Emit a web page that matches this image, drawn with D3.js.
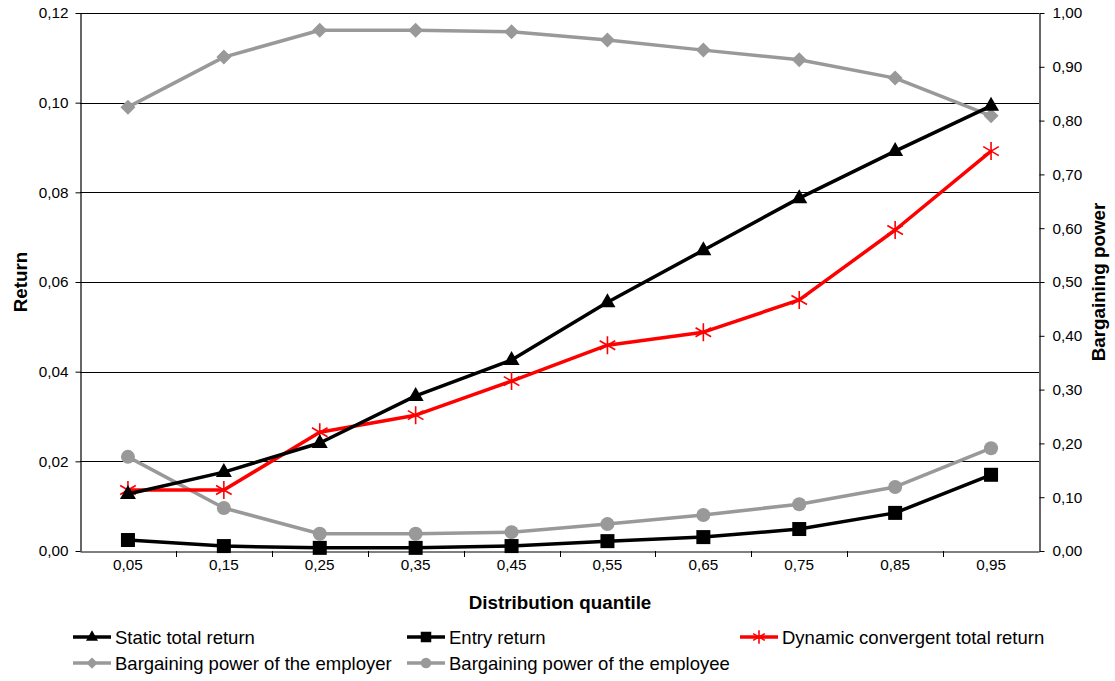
<!DOCTYPE html>
<html><head><meta charset="utf-8">
<script src="https://cdn.jsdelivr.net/npm/d3@7"></script>
<style>body{margin:0;background:#fff;}svg{font-family:"Liberation Sans",Arial,sans-serif;}</style>
</head><body><svg id="c" width="1115" height="681"></svg>
<script>
const categories = ["0,05","0,15","0,25","0,35","0,45","0,55","0,65","0,75","0,85","0,95"];
const staticTotal = [0.0127,0.0176,0.0241,0.0346,0.0426,0.0555,0.0671,0.0787,0.0892,0.0993];
const entryReturn = [0.00245,0.0011,0.0007,0.0007,0.0011,0.0022,0.0031,0.0049,0.0085,0.0170];
const dynamicTotal = [0.0136,0.0136,0.0265,0.0303,0.0379,0.0459,0.0488,0.0560,0.0716,0.0892];
const employerPower = [0.825,0.918,0.968,0.968,0.965,0.950,0.931,0.913,0.879,0.809];
const employeePower = [0.175,0.080,0.032,0.032,0.035,0.050,0.067,0.087,0.119,0.191];
const leftTicks = [0,0.02,0.04,0.06,0.08,0.10,0.12];
const rightTicks = [0,0.1,0.2,0.3,0.4,0.5,0.6,0.7,0.8,0.9,1.0];

const svg = d3.select("#c");
const L=80,R=1039,T=13,B=551;
const x = d3.scaleBand().domain(categories).range([L,R]);
const yL = d3.scaleLinear().domain([0,0.12]).range([B,T]);
const yR = d3.scaleLinear().domain([0,1]).range([B,T]);
const fmt2 = v => d3.format(".2f")(v).replace(".",",");

// gridlines
svg.append("g").selectAll("line").data(leftTicks.filter(d=>d>0)).join("line")
  .attr("x1",L).attr("x2",R).attr("y1",d=>Math.round(yL(d))+0.5).attr("y2",d=>Math.round(yL(d))+0.5)
  .attr("stroke","#000").attr("stroke-width",1);

// axes
const gl = svg.append("g").attr("transform",`translate(${L+0.5},0)`)
  .call(d3.axisLeft(yL).tickValues(leftTicks).tickFormat(fmt2).tickSize(5).tickSizeOuter(0));
const gr = svg.append("g").attr("transform",`translate(${R+0.5},0)`)
  .call(d3.axisRight(yR).tickValues(rightTicks).tickFormat(fmt2).tickSize(5).tickSizeOuter(0));
const gx = svg.append("g").attr("transform",`translate(0,${B+0.5})`)
  .call(d3.axisBottom(x).tickSize(0).tickSizeOuter(0));
// boundary ticks for x
svg.append("g").selectAll("line").data(categories.slice(1)).join("line")
  .attr("x1",d=>Math.round(x(d))+0.5).attr("x2",d=>Math.round(x(d))+0.5)
  .attr("y1",B).attr("y2",B+6).attr("stroke","#000");
[gl,gr,gx].forEach(g=>{
  g.attr("font-size",15.3).attr("font-family","Liberation Sans, Arial, sans-serif");
  g.selectAll("path.domain").attr("stroke","#000").attr("stroke-width",1.2);
  g.selectAll(".tick line").attr("stroke","#000");
  g.selectAll("text").attr("fill","#000");
});
gl.selectAll("text").attr("x",-12);
gr.selectAll("text").attr("x",13);
gx.selectAll("text").attr("y",18).attr("dy","0");

// axis titles
svg.append("text").attr("transform",`translate(27,282) rotate(-90)`).attr("text-anchor","middle")
  .attr("font-size",18.8).attr("font-weight","bold").text("Return");
svg.append("text").attr("transform",`translate(1105,282) rotate(-90)`).attr("text-anchor","middle")
  .attr("font-size",18.8).attr("font-weight","bold").text("Bargaining power");
svg.append("text").attr("x",560).attr("y",609).attr("text-anchor","middle")
  .attr("font-size",18.8).attr("font-weight","bold").text("Distribution quantile");

const cx = c => x(c)+x.bandwidth()/2;
const gray="#999999";
const series = [
  {name:"Bargaining power of the employer", data:employerPower, y:yR, color:gray, marker:"diamond"},
  {name:"Bargaining power of the employee", data:employeePower, y:yR, color:gray, marker:"circle"},
  {name:"Entry return", data:entryReturn, y:yL, color:"#000", marker:"square"},
  {name:"Dynamic convergent total return", data:dynamicTotal, y:yL, color:"#ff0000", marker:"star"},
  {name:"Static total return", data:staticTotal, y:yL, color:"#000", marker:"triangle"}
];

function drawMarker(g, type, color, scale){
  const s = scale||1;
  if(type==="diamond") g.append("path").attr("d",`M0,${-7.5*s}L${7.5*s},0L0,${7.5*s}L${-7.5*s},0Z`).attr("fill",color);
  else if(type==="circle") g.append("circle").attr("r",7*s).attr("fill",color);
  else if(type==="square") g.append("rect").attr("x",-7*s).attr("y",-7*s).attr("width",14*s).attr("height",14*s).attr("fill",color);
  else if(type==="triangle") g.append("path").attr("d",`M0,${-9*s}L${8*s},${5*s}L${-8*s},${5*s}Z`).attr("fill",color);
  else if(type==="star"){
    const r=9*s;
    const p=[];
    [0,60,120].forEach(a=>{const t=a*Math.PI/180;p.push(`M${-r*Math.sin(t)},${-r*Math.cos(t)}L${r*Math.sin(t)},${r*Math.cos(t)}`);});
    g.append("path").attr("d",p.join("")).attr("stroke",color).attr("stroke-width",1.6).attr("fill","none");
  }
}

const line = d3.line();
series.forEach(s=>{
  const pts = categories.map((c,i)=>[cx(c), s.y(s.data[i])]);
  svg.append("path").attr("d",line(pts)).attr("fill","none").attr("stroke",s.color).attr("stroke-width",3.5).attr("stroke-linejoin","round");
  pts.forEach(p=>{
    const g=svg.append("g").attr("transform",`translate(${p[0]},${p[1]})`);
    drawMarker(g,s.marker,s.color);
  });
});

// legend
const legend = [
  {name:"Static total return", color:"#000", marker:"triangle", x:73, y:637},
  {name:"Entry return", color:"#000", marker:"square", x:407, y:637},
  {name:"Dynamic convergent total return", color:"#ff0000", marker:"star", x:740, y:637},
  {name:"Bargaining power of the employer", color:gray, marker:"diamond", x:73, y:663},
  {name:"Bargaining power of the employee", color:gray, marker:"circle", x:407, y:663}
];
legend.forEach(l=>{
  svg.append("line").attr("x1",l.x).attr("x2",l.x+38).attr("y1",l.y).attr("y2",l.y).attr("stroke",l.color).attr("stroke-width",3.5);
  const g=svg.append("g").attr("transform",`translate(${l.x+19},${l.y})`);
  drawMarker(g,l.marker,l.color,0.75);
  svg.append("text").attr("x",l.x+42).attr("y",l.y+7).attr("font-size",18.5).attr("fill","#000").text(l.name);
});
</script></body></html>
